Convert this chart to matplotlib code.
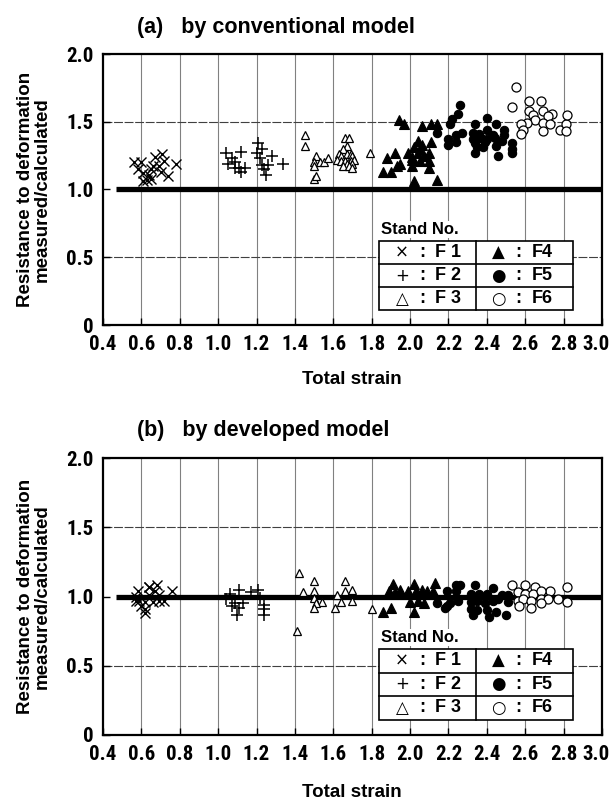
import matplotlib.pyplot as plt
from matplotlib.patches import Rectangle
from matplotlib.transforms import ScaledTranslation

# axis ticks
xticks = [0.4, 0.6, 0.8, 1.0, 1.2, 1.4, 1.6, 1.8, 2.0, 2.2, 2.4, 2.6, 2.8, 3.0]
xtick_labels = ['0.4', '0.6', '0.8', '1.0', '1.2', '1.4', '1.6', '1.8', '2.0',
                '2.2', '2.4', '2.6', '2.8', '3.0']
yticks = [0, 0.5, 1.0, 1.5, 2.0]
ytick_labels = ['0', '0.5', '1.0', '1.5', '2.0']
stands = ['F 1', 'F 2', 'F 3', 'F4', 'F5', 'F6']
symbols = ['×', '+', '△', '▲', '●', '○']

# (a) conventional model
a_f1_x = [0.56, 0.60, 0.58, 0.61, 0.61, 0.64, 0.65, 0.66, 0.67, 0.71, 0.72, 0.69, 0.70, 0.74, 0.65, 0.78, 0.63]
a_f1_y = [1.20, 1.20, 1.15, 1.12, 1.06, 1.11, 1.15, 1.17, 1.24, 1.26, 1.21, 1.17, 1.13, 1.10, 1.08, 1.19, 1.07]
a_f2_x = [1.04, 1.07, 1.12, 1.05, 1.09, 1.11, 1.14, 1.12, 1.09, 1.20, 1.21, 1.23, 1.28, 1.22, 1.23, 1.26, 1.24, 1.25, 1.34]
a_f2_y = [1.27, 1.23, 1.28, 1.19, 1.20, 1.16, 1.16, 1.13, 1.16, 1.27, 1.34, 1.30, 1.25, 1.23, 1.18, 1.18, 1.15, 1.11, 1.19]
a_f3_x = [1.45, 1.45, 1.51, 1.50, 1.53, 1.55, 1.57, 1.50, 1.50, 1.51, 1.66, 1.68, 1.67, 1.65, 1.63,
          1.64, 1.67, 1.69, 1.70, 1.62, 1.64, 1.66, 1.69, 1.71, 1.67, 1.70, 1.65, 1.68, 1.70, 1.79]
a_f3_y = [1.40, 1.32, 1.25, 1.20, 1.20, 1.20, 1.23, 1.17, 1.08, 1.10, 1.38, 1.38, 1.32, 1.30, 1.26,
          1.25, 1.26, 1.26, 1.25, 1.22, 1.21, 1.21, 1.21, 1.22, 1.19, 1.19, 1.17, 1.17, 1.16, 1.27]
a_f4_x = [1.94, 1.97, 2.06, 2.11, 2.14, 2.04, 2.06, 2.11, 2.02, 2.05, 2.10, 1.99, 1.92, 1.88,
          2.07, 2.01, 1.95, 1.93, 2.01, 2.05, 2.10, 2.01, 2.10, 1.86, 1.90, 2.02, 2.14, 2.04]
a_f4_y = [1.51, 1.48, 1.47, 1.48, 1.48, 1.36, 1.33, 1.35, 1.31, 1.30, 1.27, 1.27, 1.27, 1.23,
          1.25, 1.24, 1.19, 1.17, 1.22, 1.21, 1.21, 1.17, 1.16, 1.13, 1.13, 1.06, 1.07, 1.27]
a_f5_x = [2.26, 2.25, 2.22, 2.21, 2.14, 2.20, 2.24, 2.27, 2.20, 2.24, 2.34, 2.40, 2.45, 2.40, 2.49, 2.33, 2.36,
          2.43, 2.49, 2.33, 2.37, 2.40, 2.44, 2.34, 2.39, 2.45, 2.48, 2.35, 2.38, 2.34, 2.53, 2.53, 2.53, 2.46]
a_f5_y = [1.62, 1.56, 1.52, 1.48, 1.42, 1.37, 1.40, 1.42, 1.33, 1.35, 1.48, 1.53, 1.48, 1.44, 1.44, 1.42, 1.41,
          1.40, 1.40, 1.37, 1.38, 1.37, 1.38, 1.34, 1.35, 1.32, 1.36, 1.31, 1.31, 1.27, 1.34, 1.30, 1.27, 1.25]
a_f6_x = [2.55, 2.53, 2.62, 2.68, 2.62, 2.69, 2.74, 2.72, 2.64, 2.65, 2.61, 2.58, 2.59, 2.58, 2.69, 2.73, 2.69, 2.78, 2.81, 2.82, 2.81]
a_f6_y = [1.76, 1.61, 1.65, 1.65, 1.58, 1.58, 1.56, 1.54, 1.55, 1.51, 1.49, 1.48, 1.44, 1.41, 1.49, 1.48, 1.43, 1.44, 1.48, 1.55, 1.43]

# (b) developed model
b_f1_x = [0.58, 0.57, 0.59, 0.64, 0.68, 0.67, 0.64, 0.62, 0.66, 0.69, 0.72, 0.69, 0.64, 0.76, 0.62, 0.60, 0.57, 0.62]
b_f1_y = [1.04, 0.97, 0.97, 1.07, 1.08, 1.04, 1.07, 0.96, 0.96, 0.97, 0.97, 1.01, 1.01, 1.04, 0.91, 0.93, 1.00, 0.88]
b_f2_x = [1.06, 1.11, 1.17, 1.21, 1.04, 1.09, 1.13, 1.11, 1.07, 1.22, 1.24, 1.24, 1.10, 1.24]
b_f2_y = [1.02, 1.05, 1.03, 1.05, 0.98, 0.95, 0.95, 0.92, 0.93, 0.99, 0.94, 0.91, 0.87, 0.87]
b_f3_x = [1.42, 1.44, 1.50, 1.50, 1.50, 1.54, 1.51, 1.50, 1.61, 1.64, 1.66, 1.66, 1.62, 1.70, 1.70, 1.80, 1.41]
b_f3_y = [1.17, 1.03, 1.11, 1.04, 0.99, 0.96, 0.95, 0.92, 0.92, 0.96, 1.11, 1.04, 1.01, 1.05, 0.97, 0.91, 0.75]
b_f4_x = [1.91, 1.95, 2.02, 2.13, 1.89, 1.92, 1.99, 2.03, 2.06, 2.09, 2.12, 2.00, 2.04, 2.07, 1.90, 1.86, 2.02]
b_f4_y = [1.09, 1.05, 1.09, 1.10, 1.04, 1.03, 1.04, 1.04, 1.05, 1.04, 1.04, 0.96, 0.97, 0.95, 0.92, 0.89, 0.89]
b_f5_x = [2.24, 2.26, 2.34, 2.43, 2.19, 2.24, 2.32, 2.36, 2.40, 2.48, 2.51, 2.14, 2.19, 2.21, 2.25,
          2.32, 2.35, 2.39, 2.43, 2.46, 2.51, 2.18, 2.32, 2.35, 2.40, 2.45, 2.50, 2.41, 2.33]
b_f5_y = [1.08, 1.08, 1.08, 1.06, 1.04, 1.04, 1.02, 1.02, 1.02, 1.01, 1.01, 0.95, 0.93, 0.95, 0.97,
          0.96, 0.97, 0.95, 0.97, 0.98, 0.96, 0.92, 0.91, 0.90, 0.90, 0.89, 0.87, 0.85, 0.87]
b_f6_x = [2.53, 2.60, 2.65, 2.73, 2.82, 2.56, 2.60, 2.64, 2.68, 2.56, 2.59, 2.63, 2.68, 2.72, 2.77, 2.82, 2.57, 2.63, 2.68]
b_f6_y = [1.08, 1.08, 1.07, 1.04, 1.07, 1.03, 1.02, 1.02, 1.04, 0.97, 0.98, 0.97, 0.98, 0.98, 0.98, 0.96, 0.93, 0.92, 0.95]

styles = [
    dict(marker='x', ms=6.5, mfc='none', mec='black', mew=1.0),
    dict(marker='+', ms=8.5, mfc='none', mec='black', mew=1.1),
    dict(marker='^', ms=6, mfc='white', mec='black', mew=0.9),
    dict(marker='^', ms=6.5, mfc='black', mec='black', mew=0.8),
    dict(marker='o', ms=6, mfc='black', mec='black', mew=0.8),
    dict(marker='o', ms=6.5, mfc='white', mec='black', mew=0.9),
]

tick_font = ['Roboto Condensed', 'Roboto', 'DejaVu Sans']
bold_font = ['Liberation Sans', 'DejaVu Sans']


def draw_panel(ax, xs, ys):
    ax.set_xlim(0.4, 3.0)
    ax.set_ylim(0, 2.0)
    for x in xticks[1:-1]:
        ax.axvline(x, color='0.5', lw=0.8, zorder=0)
    for y in [0.5, 1.5]:
        ax.axhline(y, color='0.25', lw=0.8, ls=(0, (8, 1.5)), zorder=0)
    ax.plot([0.47, 3.0], [1.0, 1.0], color='black', lw=3.8, solid_capstyle='butt', zorder=2)
    for x, y, st in zip(xs, ys, styles):
        ax.plot(x, y, ls='none', zorder=3, **st)

    ax.set_xticks(xticks)
    ax.set_xticklabels(xtick_labels, family=tick_font, fontsize=15, fontweight='bold')
    ax.set_yticks(yticks)
    ax.set_yticklabels(ytick_labels, family=tick_font, fontsize=15, fontweight='bold')
    ax.tick_params(direction='in', length=5, width=1.0, pad=7)
    # keep the last x label inside the picture
    last = ax.get_xticklabels()[-1]
    last.set_transform(last.get_transform() + ScaledTranslation(-4 / 72, 0, fig.dpi_scale_trans))
    for sp in ax.spines.values():
        sp.set_linewidth(1.6)

    ax.set_ylabel('Resistance to deformation\nmeasured/calculated', family=bold_font,
                  fontsize=13.5, fontweight='bold', linespacing=1.0)
    ax.yaxis.set_label_coords(-0.105, 0.5)

    # "Stand No." legend table
    left, right, mid = 0.554, 0.942, 0.747
    rows = [0.31, 0.225, 0.14, 0.055]
    ax.add_patch(Rectangle((left, rows[-1]), right - left, rows[0] - rows[-1],
                           transform=ax.transAxes, facecolor='white', edgecolor='black',
                           lw=1.2, zorder=5))
    for r in rows[1:-1]:
        ax.plot([left, right], [r, r], transform=ax.transAxes, color='black', lw=1.2, zorder=6)
    ax.plot([mid, mid], [rows[-1], rows[0]], transform=ax.transAxes, color='black', lw=1.2, zorder=6)
    ax.text(left + 0.004, 0.352, 'Stand No.', transform=ax.transAxes, ha='left', va='center',
            family=bold_font, fontsize=12, fontweight='bold', zorder=6,
            bbox=dict(facecolor='white', edgecolor='none', pad=1.0))
    for i, (sym, name) in enumerate(zip(symbols, stands)):
        col = i // 3
        row = i % 3
        yc = (rows[row] + rows[row + 1]) / 2
        x0 = left if col == 0 else mid
        ax.text(x0 + 0.045, yc, sym, transform=ax.transAxes, ha='center', va='center',
                family='DejaVu Sans', fontsize=12, zorder=7)
        ax.text(x0 + 0.085, yc, ':', transform=ax.transAxes, ha='center', va='center',
                family=bold_font, fontsize=13, fontweight='bold', zorder=7)
        ax.text(x0 + 0.112, yc, name, transform=ax.transAxes, ha='left', va='center',
                family=bold_font, fontsize=13, fontweight='bold', zorder=7)


fig = plt.figure(figsize=(6.13, 8.05), dpi=100)
ax_a = fig.add_axes([103 / 613, 1 - 325 / 805, 499 / 613, 271 / 805])
ax_b = fig.add_axes([103 / 613, 1 - 735 / 805, 499 / 613, 277 / 805])

draw_panel(ax_a, [a_f1_x, a_f2_x, a_f3_x, a_f4_x, a_f5_x, a_f6_x],
           [a_f1_y, a_f2_y, a_f3_y, a_f4_y, a_f5_y, a_f6_y])
draw_panel(ax_b, [b_f1_x, b_f2_x, b_f3_x, b_f4_x, b_f5_x, b_f6_x],
           [b_f1_y, b_f2_y, b_f3_y, b_f4_y, b_f5_y, b_f6_y])

fig.text(137 / 613, 1 - 27 / 805, '(a)   by conventional model', ha='left', va='center',
         family=bold_font, fontsize=15.5, fontweight='bold')
fig.text(137 / 613, 1 - 430 / 805, '(b)   by developed model', ha='left', va='center',
         family=bold_font, fontsize=15.5, fontweight='bold')
fig.text(352 / 613, 1 - 379 / 805, 'Total strain', ha='center', va='center',
         family=bold_font, fontsize=13.5, fontweight='bold')
fig.text(352 / 613, 1 - 792 / 805, 'Total strain', ha='center', va='center',
         family=bold_font, fontsize=13.5, fontweight='bold')

fig.savefig('out.png', dpi=100)
